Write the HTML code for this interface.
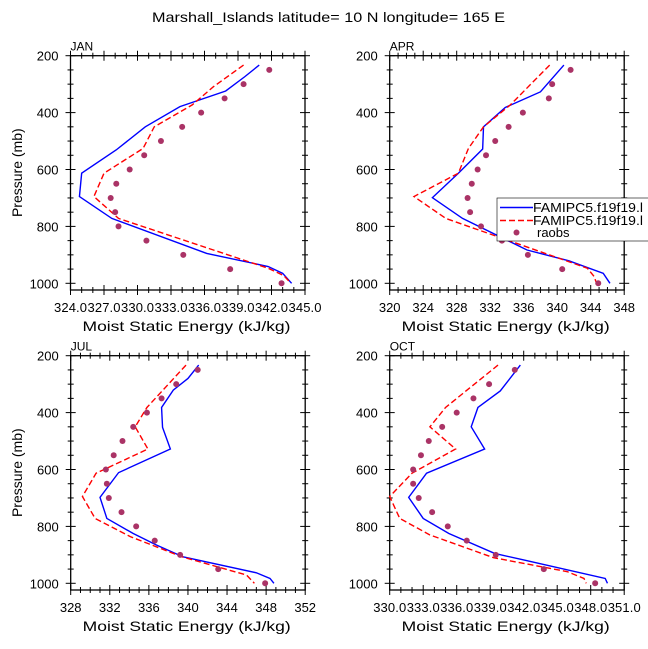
<!DOCTYPE html>
<html><head><meta charset="utf-8">
<style>
html,body{margin:0;padding:0;background:#fff;}
svg{display:block;font-family:"Liberation Sans","DejaVu Sans",sans-serif;}
</style></head>
<body>
<svg id="chart" width="648" height="649" viewBox="0 0 648 649" xmlns="http://www.w3.org/2000/svg">
<text x="152" y="22" font-size="14" textLength="353" lengthAdjust="spacingAndGlyphs" fill="#000">Marshall_Islands  latitude= 10 N longitude= 165 E</text>
</svg>
<script>
// ---- data ----
const panelNames = ["JAN","APR","JUL","OCT"];
const yTicks = [200,400,600,800,1000];
const janXTicks = [324,327,330,333,336,339,342,345];
const aprXTicks = [320,324,328,332,336,340,344,348];
const julXTicks = [328,332,336,340,344,348,352];
const octXTicks = [330,333,336,339,342,345,348,351];
const obsP = [250,300,350,400,450,500,550,600,650,700,750,800,850,900,950,1000];

const janBlueP = [233,274,324,379,450,531,613,695,772,895,941,965,1000];
const janBlue  = [340.9,339.6,337.9,333.8,330.7,328.1,325.0,324.8,327.7,336.2,341.7,343.0,343.8];
const janRedP  = [233,309,373,450,526,613,695,772,947,973,998];
const janRed   = [339.5,336.8,334.9,331.5,330.5,327.0,326.1,328.3,341.7,343.1,343.7];
const janObs   = [341.8,339.5,337.8,335.7,334.0,332.1,330.6,329.3,328.1,327.6,328.0,328.3,330.8,334.1,338.3,342.9];

const aprBlueP = [233,327,382,450,528,613,699,772,883,921,965,1000];
const aprBlue  = [340.8,338.0,333.8,331.2,331.1,328.2,325.1,328.7,336.4,341.4,345.5,346.3];
const aprRedP  = [233,373,450,526,613,695,772,947,976,1000];
const aprRed   = [339.1,334.4,331.2,329.4,328.2,322.9,326.7,343.6,344.4,344.7];
const aprObs   = [341.6,339.4,339.0,335.9,334.2,332.6,331.5,330.5,329.8,329.3,329.6,330.9,333.4,336.5,340.6,344.9];

const julBlueP = [233,280,321,382,452,528,611,698,772,825,866,907,963,983,1000];
const julBlue  = [341.1,340.0,338.5,337.3,337.4,338.2,332.9,331.0,331.7,334.4,336.8,339.5,347.0,348.4,348.8];
const julRedP  = [233,382,450,528,613,695,772,836,907,971,1000];
const julRed   = [339.8,335.8,334.6,335.9,330.6,329.2,330.5,334.1,339.4,346.0,346.8];
const julObs   = [341.0,338.8,337.3,335.8,334.4,333.3,332.4,331.6,331.7,331.9,333.2,334.7,336.6,339.2,343.1,347.9];

const octBlueP = [233,324,382,450,528,613,698,772,825,895,918,983,1000];
const octBlue  = [341.7,339.9,337.9,337.3,338.5,333.3,331.7,333.0,335.3,339.4,342.0,349.3,349.5];
const octRedP  = [233,382,450,528,613,695,772,830,910,959,983,1000];
const octRed   = [339.7,335.0,333.6,335.9,332.0,330.0,330.9,333.6,339.3,345.9,347.4,347.6];
const octObs   = [341.2,338.9,337.5,336.0,334.7,333.5,332.8,332.1,332.1,332.6,333.8,335.2,336.9,339.5,343.8,348.4];

const legendLabels = ["FAMIPC5.f19f19.l","FAMIPC5.f19f19.l","raobs"];

// ---- drawing ----
const NS = "http://www.w3.org/2000/svg";
const svg = document.getElementById("chart");
function mk(tag, attrs, parent){
  const e = document.createElementNS(NS, tag);
  for (const k in attrs) e.setAttribute(k, attrs[k]);
  (parent||svg).appendChild(e);
  return e;
}
const panels = [
  {name:"jan", left:70.5, top:55.7, xt:janXTicks, dec:true, minor:3, bP:janBlueP,b:janBlue,rP:janRedP,r:janRed,o:janObs, ytitle:true},
  {name:"apr", left:389.7, top:55.7, xt:aprXTicks, dec:false, minor:4, bP:aprBlueP,b:aprBlue,rP:aprRedP,r:aprRed,o:aprObs, ytitle:false},
  {name:"jul", left:70.7, top:355.7, xt:julXTicks, dec:false, minor:4, bP:julBlueP,b:julBlue,rP:julRedP,r:julRed,o:julObs, ytitle:true},
  {name:"oct", left:389.7, top:355.7, xt:octXTicks, dec:true, minor:3, bP:octBlueP,b:octBlue,rP:octRedP,r:octRed,o:octObs, ytitle:false}
];
const W = 234.5, H200to1000 = 227.6, HBOX = 234.3;

panels.forEach((p, idx) => {
  const g = mk("g", {});
  
  
  const xmin = p.xt[0], xmax = p.xt[p.xt.length-1];
  const sx = v => p.left + (v - xmin) / (xmax - xmin) * W;
  const sy = v => p.top + (v - 200) / 800 * H200to1000;
  const bottom = p.top + HBOX, right = p.left + W;

  const lab = mk("text", {x:p.left, y:p.top-5, "font-size":12, fill:"#000"}, g);
  lab.textContent = panelNames[idx];
  
  

  const tg = mk("g", {stroke:"#000", "stroke-width":1}, g);
  
  
  for (let v = 200; v <= 1000; v += 50) {
    const y = sy(v), major = (v % 200 === 0);
    const l = major ? 5 : 3;
    mk("line", {x1:p.left-l, x2:p.left+l, y1:y, y2:y}, tg);
    mk("line", {x1:right-l, x2:right+l, y1:y, y2:y}, tg);
  }
  for (let i = 0; i < p.xt.length; i++) {
    const x = sx(p.xt[i]);
    mk("line", {x1:x, x2:x, y1:bottom-5, y2:bottom+5}, tg);
    mk("line", {x1:x, x2:x, y1:p.top-5, y2:p.top+5}, tg);
    if (i < p.xt.length-1) {
      const step = (p.xt[i+1]-p.xt[i]) / p.minor;
      for (let k = 1; k < p.minor; k++) {
        const xm = sx(p.xt[i] + k*step);
        mk("line", {x1:xm, x2:xm, y1:bottom-3, y2:bottom+3}, tg);
        mk("line", {x1:xm, x2:xm, y1:p.top-3, y2:p.top+3}, tg);
      }
    }
  }
  const fr = mk("rect", {x:p.left, y:p.top, width:W, height:HBOX, fill:"none", stroke:"#000", "stroke-width":1.3}, g);
  
  

  yTicks.forEach(v => {
    const t = mk("text", {x:p.left-12, y:sy(v)+5, "font-size":13, "text-anchor":"end", fill:"#000"}, g);
    t.textContent = v;
    
    
  });
  p.xt.forEach(v => {
    const t = mk("text", {x:sx(v), y:bottom+22, "font-size":13, "text-anchor":"middle", fill:"#000"}, g);
    if (p.dec) t.setAttribute("textLength", 33);
    t.textContent = p.dec ? v.toFixed(1) : v;
    
    
  });
  const xt = mk("text", {x:p.left+12, y:bottom+41, "font-size":14, textLength:208, lengthAdjust:"spacingAndGlyphs", fill:"#000"}, g);
  xt.textContent = "Moist Static Energy (kJ/kg)";
  
  
  if (p.ytitle) {
    const cy = p.top + 117;
    const yt = mk("text", {x:22, y:cy, "font-size":14, "text-anchor":"middle", fill:"#000", transform:"rotate(-90 22 "+cy+")"}, g);
    yt.textContent = "Pressure (mb)";
    
    
  }
  const bpts = p.b.map((v,i) => sx(v)+","+sy(p.bP[i])).join(" ");
  const bl = mk("polyline", {points:bpts, fill:"none", stroke:"#0000ff", "stroke-width":1.4}, g);
  
  
  const rpts = p.r.map((v,i) => sx(v)+","+sy(p.rP[i])).join(" ");
  const rl = mk("polyline", {points:rpts, fill:"none", stroke:"#ff0000", "stroke-width":1.4, "stroke-dasharray":"6,3"}, g);
  
  
  p.o.forEach((v,i) => {
    const c = mk("circle", {cx:sx(v), cy:sy(obsP[i]), r:3, fill:"#aa3366"}, g);
    
    
  });
});

const lg = mk("g", {});


mk("rect", {x:497, y:198, width:160, height:43, fill:"#fff", stroke:"#000", "stroke-width":0.6}, lg);
const e1 = mk("line", {x1:500, x2:533, y1:207.5, y2:207.5, stroke:"#0000ff", "stroke-width":1.4}, lg);


const e2 = mk("line", {x1:500, x2:533, y1:220.5, y2:220.5, stroke:"#ff0000", "stroke-width":1.4, "stroke-dasharray":"6,3"}, lg);


const e3 = mk("circle", {cx:516.5, cy:232.5, r:3, fill:"#aa3366"}, lg);


[212,225,237].forEach((y,i) => {
  const t = mk("text", {x:i<2?533:537, y:y, "font-size":13, fill:"#000"}, lg);
  if (i < 2) { t.setAttribute("textLength", 110); t.setAttribute("lengthAdjust", "spacingAndGlyphs"); }
  t.textContent = legendLabels[i];
  
  
});
</script>
</body></html>
